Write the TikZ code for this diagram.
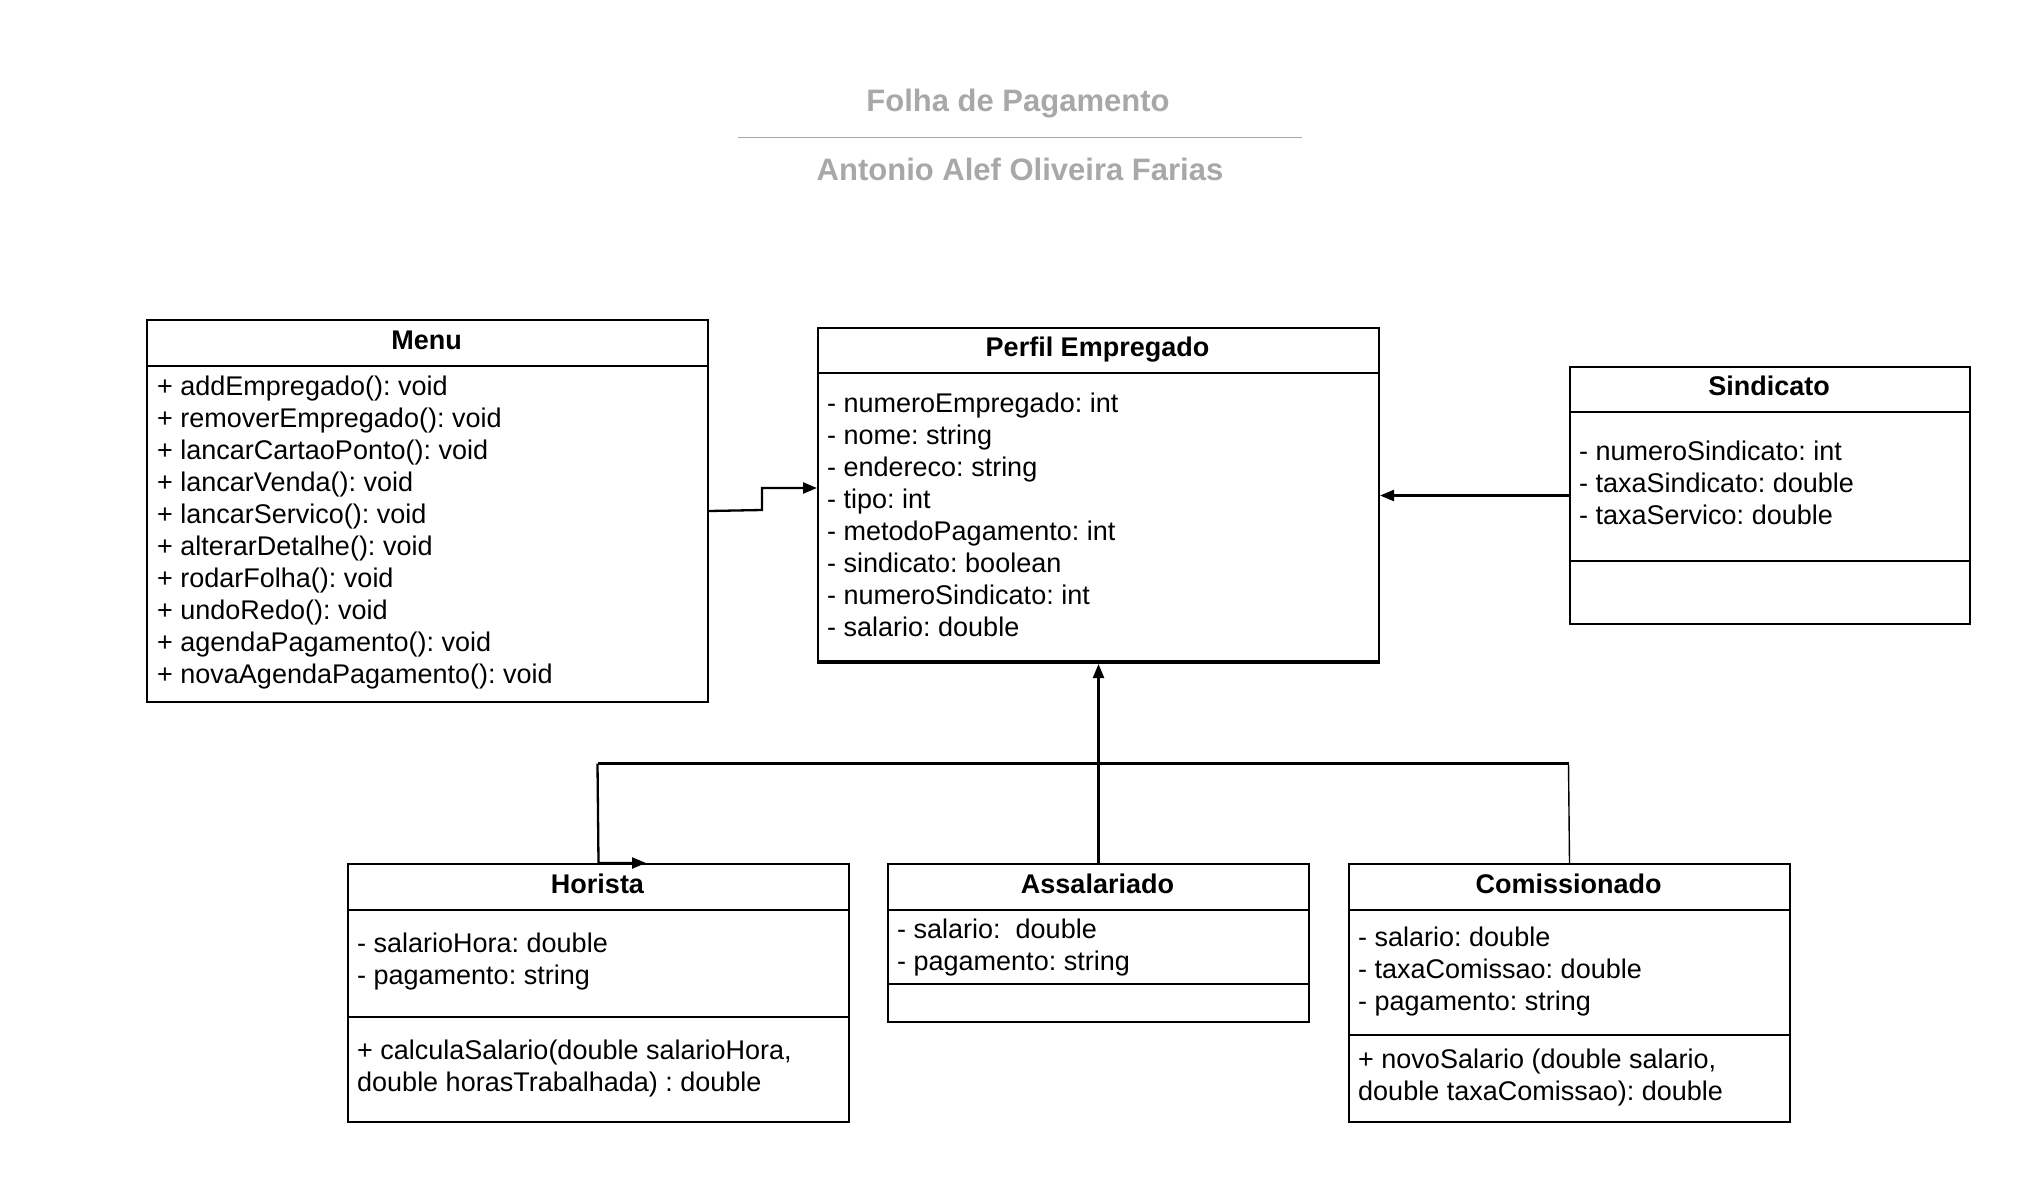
\documentclass[tikz,border=0pt]{standalone}
\usepackage{fontspec}
\setmainfont{Liberation Sans}
\usetikzlibrary{arrows.meta}
\definecolor{titlegray}{HTML}{A8A8A8}
\frenchspacing
\tikzset{
  classbox/.style={draw=black, line width=2pt, inner sep=0pt, anchor=north west},
  divider/.style={draw=black, line width=2pt},
  hdr/.style={font=\fontsize{27}{32}\selectfont\bfseries, inner sep=0pt, anchor=base},
  txt/.style={font=\fontsize{27}{32}\selectfont\frenchspacing, inner sep=0pt, align=left, anchor=north west},
  conn/.style={draw=black, line width=2.3pt, -{Triangle[length=14pt,width=11pt]}},
  plain/.style={draw=black, line width=2.3pt},
  thin/.style={draw=black, line width=1.4pt},
  ttl/.style={font=\fontsize{31}{36}\selectfont\bfseries, text=titlegray, inner sep=0pt, anchor=base}
}
\begin{document}
\begin{tikzpicture}[x=1pt, y=-1pt]
\useasboundingbox (0,0) rectangle (2036,1178);

% titles
\node[ttl] (t1) at (1018,111) {Folha de Pagamento};
\node[ttl] (t2) at (1020,180) {Antonio Alef Oliveira Farias};
\coordinate (tl) at (738,137.5);
\coordinate (tr) at (1302,137.5);
\draw[titlegray, line width=1.6pt] (tl) -- (tr);

% Menu
\node[classbox, minimum width=561pt, minimum height=382pt] (menu) at (146,319) {};
\draw[divider] (146,366) -- (707,366);
\node[hdr] (menuh) at (426.5,349.7) {Menu};
\node[txt] (menut) at (157,373.3) {\strut+ addEmpregado(): void\\+ removerEmpregado(): void\\+ lancarCartaoPonto(): void\\+ lancarVenda(): void\\+ lancarServico(): void\\+ alterarDetalhe(): void\\+ rodarFolha(): void\\+ undoRedo(): void\\+ agendaPagamento(): void\\+ novaAgendaPagamento(): void};

% Perfil Empregado
\node[classbox, minimum width=561pt, minimum height=335pt] (perfil) at (817,327) {};
\draw[divider] (817,373) -- (1378,373);
\draw[divider] (817,661) -- (1378,661);
\node[hdr] (perfilh) at (1097.5,356.2) {Perfil Empregado};
\node[txt] (perfilt) at (827,389.8) {\strut- numeroEmpregado: int\\- nome: string\\- endereco: string\\- tipo: int\\- metodoPagamento: int\\- sindicato: boolean\\- numeroSindicato: int\\- salario: double};

% Sindicato
\node[classbox, minimum width=400pt, minimum height=257pt] (sind) at (1569,366) {};
\draw[divider] (1569,412) -- (1969,412);
\draw[divider] (1569,561) -- (1969,561);
\node[hdr] (sindh) at (1769,395.2) {Sindicato};
\node[txt] (sindt) at (1579,438) {\strut- numeroSindicato: int\\- taxaSindicato: double\\- taxaServico: double};

% Horista
\node[classbox, minimum width=501pt, minimum height=258pt] (hor) at (347,863) {};
\draw[divider] (347,910) -- (848,910);
\draw[divider] (347,1017) -- (848,1017);
\node[hdr] (horh) at (597.5,893.8) {Horista};
\node[txt] (hort) at (357,930) {\strut- salarioHora: double\\- pagamento: string};
\node[txt] (horm) at (357,1036.5) {\strut+ calculaSalario(double salarioHora,\\double horasTrabalhada) : double};

% Assalariado
\node[classbox, minimum width=421pt, minimum height=158pt] (ass) at (887,863) {};
\draw[divider] (887,910) -- (1308,910);
\draw[divider] (887,984) -- (1308,984);
\node[hdr] (assh) at (1097.5,893.8) {Assalariado};
\node[txt] (asst) at (897,915.6) {\strut- salario:\ \ double\\- pagamento: string};

% Comissionado
\node[classbox, minimum width=441pt, minimum height=258pt] (com) at (1348,863) {};
\draw[divider] (1348,910) -- (1789,910);
\draw[divider] (1348,1035) -- (1789,1035);
\node[hdr] (comh) at (1568.5,893.8) {Comissionado};
\node[txt] (comt) at (1358,923.5) {\strut- salario: double\\- taxaComissao: double\\- pagamento: string};
\node[txt] (comm) at (1358,1045.6) {\strut+ novoSalario (double salario,\\double taxaComissao): double};

% connectors
\coordinate (mA) at (762,510);
\coordinate (mB) at (762,488);
\draw[conn] (menu.east) -- (mA) -- (mB) -- (perfil.west |- mB);
\draw[conn] (sind.west) -- (perfil.east);
\draw[conn] (ass.north) -- (perfil.south);
\coordinate (jL) at (597.5,763.5);
\coordinate (jR) at (1568.5,763.5);
\coordinate (hTip) at (646,863);
\draw[plain] (jL) -- (jR);
\draw[conn] (jL) -- (hor.north) -- (hTip);
\draw[thin] (jR) -- (com.north);
\end{tikzpicture}
\end{document}
